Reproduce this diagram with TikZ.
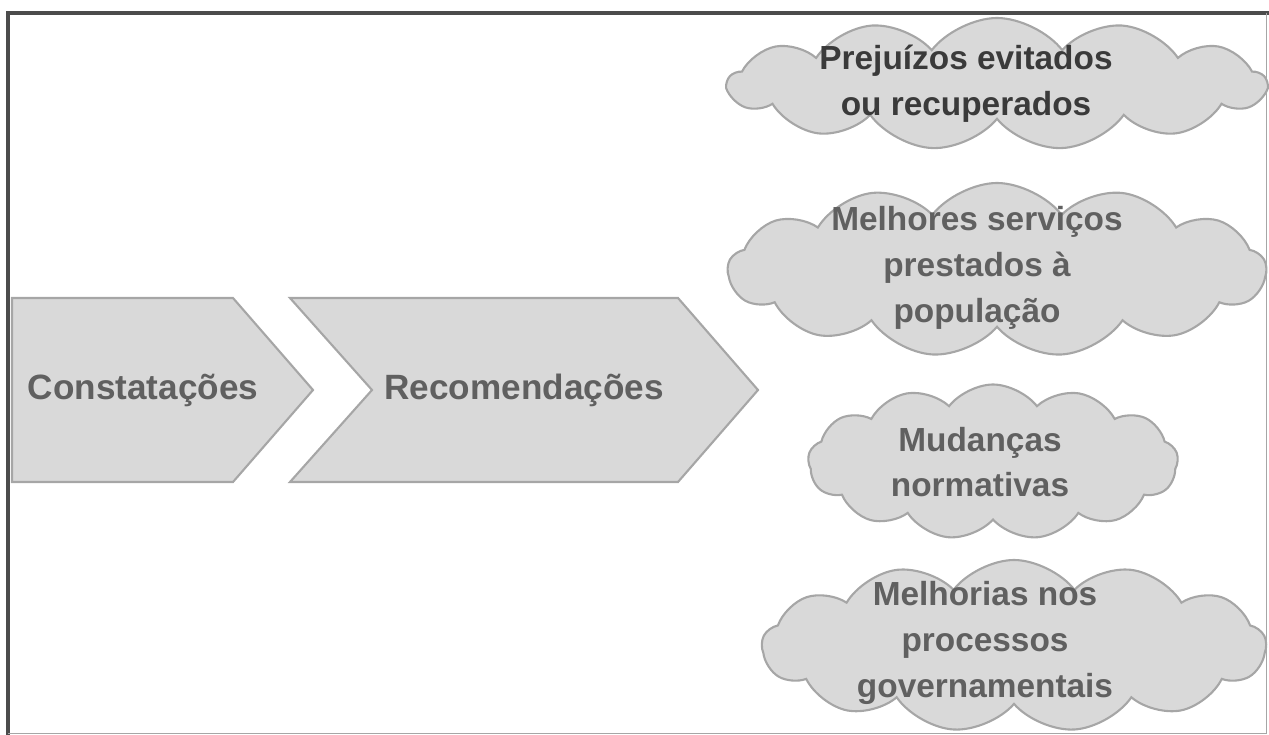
\documentclass[tikz,border=0pt]{standalone}
\usepackage{fontspec}
\setmainfont{Liberation Sans}
\usepackage{tikz}
\usetikzlibrary{shapes.symbols}

\definecolor{boxfill}{HTML}{D9D9D9}
\definecolor{boxline}{HTML}{A6A6A6}
\definecolor{boxtext}{HTML}{606060}
\definecolor{darktext}{HTML}{3A3A3A}

\begin{document}
\begin{tikzpicture}[
    chevron/.style={fill=boxfill, draw=boxline, line width=1.2pt, line join=miter},
    outcome/.style={cloud, cloud puffs=13, cloud puff arc=105, fill=boxfill, draw=boxline, line width=1.2pt, inner sep=0pt},
    label/.style={font=\fontsize{20}{25}\bfseries, text=boxtext},
    cloudtext/.style={font=\fontsize{19}{26}\selectfont\bfseries, text=boxtext, align=center}
  ]
    \useasboundingbox (0,0) rectangle (25.38,-14.7);

    % frame
    \draw[line width=2pt, draw=black!70] (0.16,-14.7) -- (0.16,-0.26) -- (25.38,-0.26);
    \draw[line width=0.5pt, draw=black!35] (25.32,-0.26) -- (25.32,-14.66) -- (0.16,-14.66);

    % chevrons
    \draw[chevron] (0.24,-5.96) -- (4.66,-5.96) -- (6.26,-7.8) -- (4.66,-9.64) -- (0.24,-9.64) -- cycle;
    \draw[chevron] (5.8,-5.96) -- (13.56,-5.96) -- (15.16,-7.8) -- (13.56,-9.64) -- (5.8,-9.64) -- (7.44,-7.8) -- cycle;
    \node[label] at (2.86, -7.8) (const) {Constatações};
    \node[label] at (10.48, -7.8) (recom) {Recomendações};

    % clouds
    \node[outcome, minimum width=10.76cm, minimum height=2.64cm] at (19.94, -1.68) (C1) {};
    \node[outcome, minimum width=10.76cm, minimum height=3.48cm] at (19.94, -5.4) (C2) {};
    \node[outcome, minimum width=7.4cm, minimum height=3.1cm] at (19.86, -9.24) (C3) {};
    \node[outcome, minimum width=10.08cm, minimum height=3.44cm] at (20.28, -12.92) (C4) {};

    \node[cloudtext, text=darktext] at (19.32, -1.68) (T1) {Prejuízos evitados\\ou recuperados};
    \node[cloudtext] at (19.54, -5.36) (T2) {Melhores serviços\\prestados à\\população};
    \node[cloudtext] at (19.6, -9.24) (T3) {Mudanças\\normativas};
    \node[cloudtext] at (19.7, -12.86) (T4) {Melhorias nos\\processos\\governamentais};
\end{tikzpicture}
\end{document}
